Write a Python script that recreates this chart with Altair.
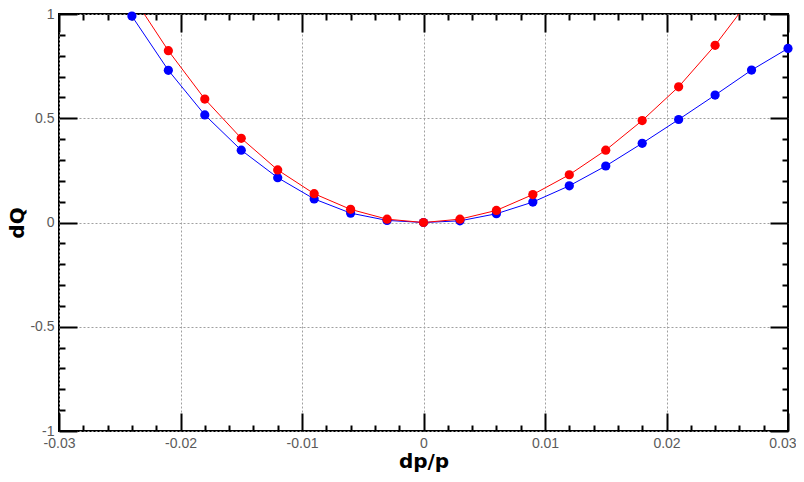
import altair as alt
import pandas as pd

# ---- data ----
dp_blue = [-0.024, -0.021, -0.018, -0.015, -0.012, -0.009, -0.006, -0.003, 0.0,
           0.003, 0.006, 0.009, 0.012, 0.015, 0.018, 0.021, 0.024, 0.027, 0.03]
dq_blue = [0.99, 0.73, 0.516, 0.347, 0.215, 0.113, 0.045, 0.01, 0.0,
           0.008, 0.042, 0.098, 0.176, 0.271, 0.38, 0.494, 0.611, 0.731, 0.835]

dp_red = [-0.024, -0.021, -0.018, -0.015, -0.012, -0.009, -0.006, -0.003, 0.0,
          0.003, 0.006, 0.009, 0.012, 0.015, 0.018, 0.021, 0.024, 0.027]
dq_red = [1.09, 0.824, 0.592, 0.404, 0.252, 0.138, 0.063, 0.016, 0.0,
          0.016, 0.058, 0.134, 0.229, 0.347, 0.489, 0.651, 0.85, 1.08]

x_major = [-0.03, -0.02, -0.01, 0, 0.01, 0.02, 0.03]
x_minor = [-0.028, -0.026, -0.024, -0.022, -0.018, -0.016, -0.014, -0.012,
           -0.008, -0.006, -0.004, -0.002, 0.002, 0.004, 0.006, 0.008,
           0.012, 0.014, 0.016, 0.018, 0.022, 0.024, 0.026, 0.028]
y_major = [-1, -0.5, 0, 0.5, 1]
y_minor = [-0.9, -0.8, -0.7, -0.6, -0.4, -0.3, -0.2, -0.1,
           0.1, 0.2, 0.3, 0.4, 0.6, 0.7, 0.8, 0.9]

df_blue = pd.DataFrame({"dp": dp_blue, "dq": dq_blue})
df_red = pd.DataFrame({"dp": dp_red, "dq": dq_red})

xs = alt.Scale(domain=[-0.03, 0.03], nice=False, zero=False)
ys = alt.Scale(domain=[-1, 1], nice=False, zero=False)

LABEL = dict(labelFont="Liberation Sans", labelFontSize=14, labelColor="#5a5a5a",
             labelPadding=5, labelOverlap=False, labelExpr="'' + datum.value")
TITLE = dict(titleFont="DejaVu Sans", titleFontSize=20, titleFontWeight="bold",
             titleColor="black")
GRID = dict(grid=True, gridColor="#a0a0a0", gridDash=[2, 2], gridWidth=1)

x_label_axis = alt.Axis(orient="bottom", values=x_major[:-1], ticks=False, tickSize=0,
                        domain=False, title="dp/p", titlePadding=1, labelFlush=False,
                        **LABEL, **TITLE, **GRID)
# last x label, kept inside the page edge
x_last_axis = alt.Axis(orient="bottom", values=x_major[-1:], ticks=False, tickSize=0,
                       domain=False, grid=False, title=None, labelFlush=True,
                       labelFlushOffset=8, **LABEL)
y_label_axis = alt.Axis(orient="left", values=y_major, ticks=False, tickSize=0,
                        domain=False, title="dQ", titlePadding=2, labelFlush=False,
                        **LABEL, **TITLE, **GRID)


def tick_axis(orient, values, size):
    return alt.Axis(orient=orient, values=values, labels=False, domain=False,
                    grid=False, ticks=True, tickSize=size, tickWidth=2,
                    tickColor="black", offset=-size, title=None)


def axis_layer(xaxis, yaxis):
    return alt.Chart(df_blue).mark_point(opacity=0).encode(
        x=alt.X("dp:Q", scale=xs, axis=xaxis),
        y=alt.Y("dq:Q", scale=ys, axis=yaxis),
    )


layers = [
    axis_layer(x_label_axis, y_label_axis),
    axis_layer(x_last_axis, None),
    axis_layer(tick_axis("bottom", x_major, 18), tick_axis("left", y_major, 18)),
    axis_layer(tick_axis("top", x_major, 18), tick_axis("right", y_major, 18)),
    axis_layer(tick_axis("bottom", x_minor, 6), tick_axis("left", y_minor, 6)),
    axis_layer(tick_axis("top", x_minor, 6), tick_axis("right", y_minor, 6)),
]


def series(df, color):
    enc = dict(x=alt.X("dp:Q", scale=xs, axis=None),
               y=alt.Y("dq:Q", scale=ys, axis=None))
    line = alt.Chart(df).mark_line(color=color, strokeWidth=1, clip=True).encode(**enc)
    pts = alt.Chart(df).transform_filter("datum.dq <= 1").mark_circle(
        color=color, size=85, opacity=1).encode(**enc)
    return [line, pts]


layers += series(df_blue, "#0000ff")
layers += series(df_red, "#ff0000")

chart = alt.layer(*layers).resolve_axis(
    x="independent", y="independent"
).properties(
    width=729, height=417,
    autosize=alt.AutoSizeParams(type="none"),
    padding={"left": 51, "top": 6, "right": 8, "bottom": 42},
).configure_view(stroke="black", strokeWidth=2)

chart.save("out.html", embed_options={"renderer": "svg", "actions": False})
